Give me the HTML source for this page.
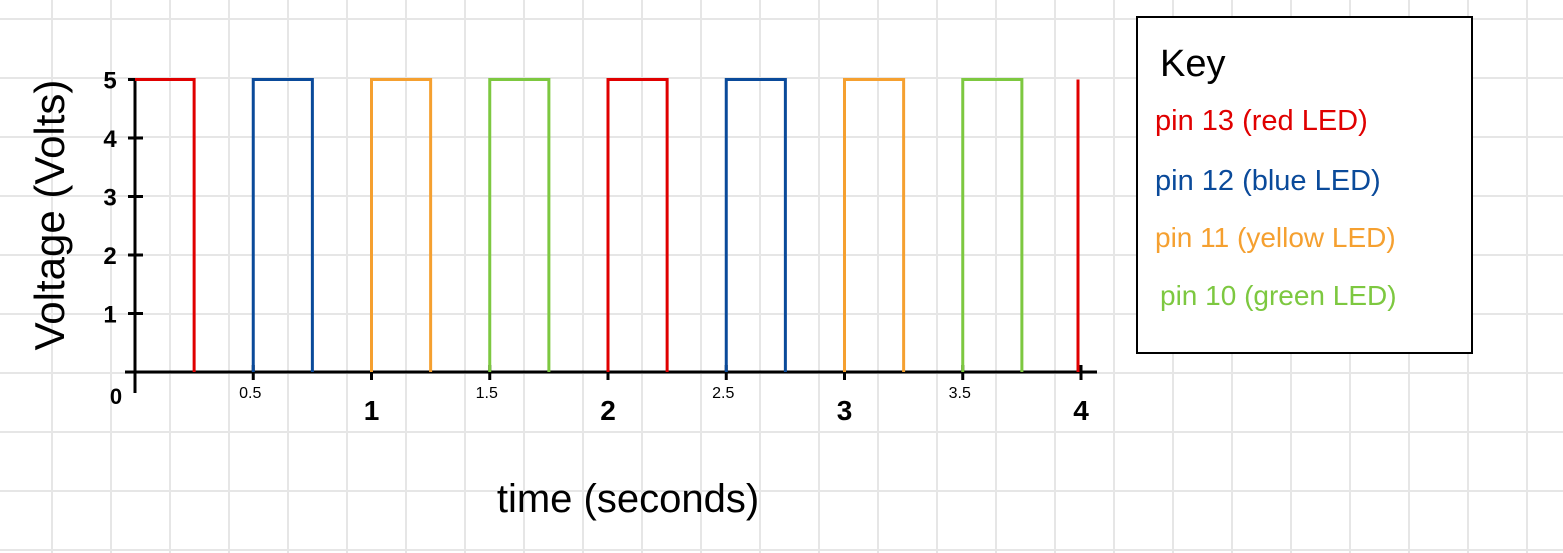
<!DOCTYPE html>
<html><head><meta charset="utf-8"><style>
html,body{margin:0;padding:0;background:#fff;}
svg{display:block;}
text{font-family:"Comic Sans MS","Liberation Sans",sans-serif;}
</style></head><body>
<svg id="chart" width="1563" height="553" viewBox="0 0 1563 553">
<g id="grid"></g>
<g id="axes"></g>
<g id="series"></g>
<text x="0" y="0" transform="translate(64,215) rotate(-90)" text-anchor="middle" font-size="42" fill="#000">Voltage (Volts)</text>
<text x="628" y="512" text-anchor="middle" font-size="40" fill="#000">time (seconds)</text>
<g>
<rect x="1137" y="17" width="335" height="336" fill="#fff" stroke="#000" stroke-width="2"/>
<text x="1160" y="76" font-size="38" fill="#000">Key</text>
<text x="1155" y="130" font-size="29" fill="#e00000">pin 13 (red LED)</text>
<text x="1155" y="190" font-size="29" fill="#0a4a9a">pin 12 (blue LED)</text>
<text x="1155" y="247" font-size="28" fill="#f5a030">pin 11 (yellow LED)</text>
<text x="1160" y="305" font-size="28" fill="#7dc840">pin 10 (green LED)</text>
</g>
</svg>
<script>
const yTicks=[1,2,3,4,5];
const xTicks=[0.5,1,1.5,2,2.5,3,3.5,4];
const xTickLabels=["0.5","1","1.5","2","2.5","3","3.5","4"];
const pulseStarts=[0,0.5,1,1.5,2,2.5,3,3.5];
const pulseEnds=[0.25,0.75,1.25,1.75,2.25,2.75,3.25,3.75];
const pulseVolts=[5,5,5,5,5,5,5,5];
const pulseColors=["#e00000","#0a4a9a","#f5a030","#7dc840","#e00000","#0a4a9a","#f5a030","#7dc840"];
const finalSpikeTime=4, finalSpikeVolt=5;

const NS="http://www.w3.org/2000/svg";
const X=t=>135+t*236.5;
const Y=v=>372-v*58.5;
function mk(tag,attrs,parent){const e=document.createElementNS(NS,tag);for(const k in attrs)e.setAttribute(k,attrs[k]);parent.appendChild(e);return e;}
const grid=document.getElementById('grid');
for(let x=52;x<1563;x+=59){const l=mk('line',{x1:x,y1:0,x2:x,y2:553,stroke:'#e6e6e6','stroke-width':2},grid);

}
for(let y=19;y<553;y+=59){const l=mk('line',{x1:0,y1:y,x2:1563,y2:y,stroke:'#e6e6e6','stroke-width':2},grid);

}
const axes=document.getElementById('axes');
const ya=mk('line',{x1:135,y1:Y(5),x2:135,y2:393,stroke:'#000','stroke-width':3},axes);


const xa=mk('line',{x1:125,y1:372,x2:1097,y2:372,stroke:'#000','stroke-width':3},axes);


const z=mk('text',{x:116,y:404,'font-size':22,'font-weight':'bold','text-anchor':'middle'},axes);z.textContent='0';


yTicks.forEach(v=>{
 const t=mk('line',{x1:128,y1:Y(v),x2:143,y2:Y(v),stroke:'#000','stroke-width':3},axes);
 
 
 const l=mk('text',{x:110,y:Y(v)+9,'font-size':24,'font-weight':'bold','text-anchor':'middle'},axes);l.textContent=String(v);
 
 
});
xTicks.forEach((v,i)=>{
 const t=mk('line',{x1:X(v),y1:365,x2:X(v),y2:380,stroke:'#000','stroke-width':3},axes);
 
 
 const major=Number.isInteger(v);
 const l=mk('text',{x:X(v)-(major?0:3),y:major?420:398,'font-size':major?28:16,'font-weight':major?'bold':'normal','text-anchor':'middle'},axes);l.textContent=xTickLabels[i];
 
 
});
const series=document.getElementById('series');
pulseStarts.forEach((s,i)=>{
 const e=pulseEnds[i],v=pulseVolts[i];
 const d=(i===0?`M${X(s)} ${Y(v)}`:`M${X(s)} 372 L${X(s)} ${Y(v)}`)+` L${X(e)} ${Y(v)} L${X(e)} 372`;
 const p=mk('path',{d:d,fill:'none',stroke:pulseColors[i],'stroke-width':3},series);
 
 
});
const sp=mk('line',{x1:X(finalSpikeTime)-3,y1:372,x2:X(finalSpikeTime)-3,y2:Y(finalSpikeVolt),stroke:'#e00000','stroke-width':3},series);


</script>
</body></html>
